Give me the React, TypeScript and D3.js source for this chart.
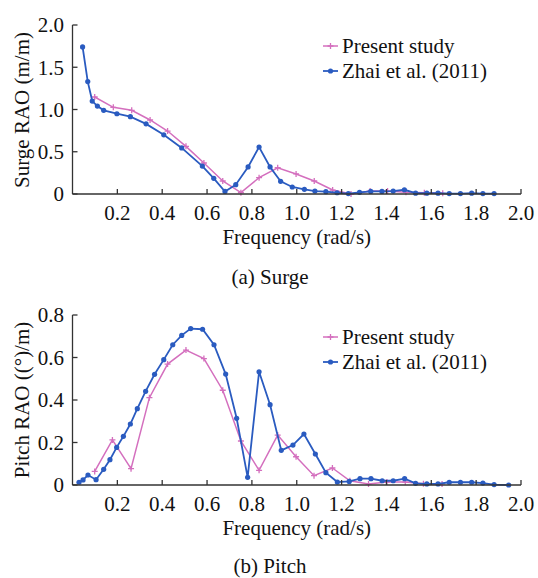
import React from "react";
import * as d3 from "d3";

const surgeZhaiF = [0.045,0.068,0.088,0.111,0.139,0.198,0.258,0.328,0.407,0.487,0.579,0.63,0.68,0.728,0.783,0.832,0.881,0.928,0.98,1.034,1.081,1.13,1.18,1.23,1.28,1.33,1.38,1.43,1.48,1.53,1.58,1.63,1.68,1.73,1.78,1.83,1.88];
const surgeZhaiV = [1.74,1.33,1.10,1.04,0.99,0.95,0.915,0.83,0.70,0.545,0.33,0.185,0.03,0.11,0.32,0.556,0.32,0.15,0.083,0.055,0.035,0.028,0.015,0.005,0.02,0.03,0.03,0.035,0.05,0.01,0.01,0.01,0.005,0.005,0.01,0.005,0.005];
const surgePresentF = [0.099,0.182,0.264,0.346,0.424,0.506,0.586,0.67,0.751,0.832,0.915,0.997,1.078,1.16,1.242,1.327,1.405,1.487,1.569,1.651];
const surgePresentV = [1.148,1.026,0.99,0.876,0.745,0.564,0.367,0.154,0.016,0.193,0.311,0.237,0.154,0.047,0.0,0.035,0.035,0.02,0.016,0.008];

const pitchZhaiF = [0.029,0.047,0.069,0.105,0.139,0.167,0.197,0.227,0.258,0.289,0.326,0.366,0.407,0.447,0.487,0.527,0.58,0.631,0.683,0.732,0.781,0.832,0.881,0.931,0.983,1.032,1.083,1.13,1.181,1.234,1.282,1.331,1.381,1.43,1.481,1.53,1.58,1.63,1.68,1.73,1.78,1.83,1.88,1.945];
const pitchZhaiV = [0.013,0.024,0.047,0.025,0.074,0.119,0.177,0.229,0.287,0.359,0.441,0.521,0.59,0.66,0.704,0.736,0.733,0.66,0.522,0.314,0.036,0.533,0.378,0.163,0.188,0.24,0.146,0.058,0.014,0.017,0.03,0.03,0.02,0.02,0.03,0.008,0.005,0.005,0.013,0.013,0.013,0.009,0.002,0.0];
const pitchPresentF = [0.099,0.178,0.261,0.343,0.424,0.506,0.586,0.67,0.751,0.832,0.915,0.997,1.077,1.159,1.237,1.32,1.402,1.484,1.565,1.648];
const pitchPresentV = [0.064,0.212,0.077,0.411,0.569,0.635,0.595,0.446,0.207,0.069,0.235,0.133,0.044,0.08,0.02,0.005,0.014,0.014,0.006,0.005];

const xTicks = [0.2,0.4,0.6,0.8,1.0,1.2,1.4,1.6,1.8,2.0];
const surgeYTicks = [0,0.5,1.0,1.5,2.0];
const pitchYTicks = [0,0.2,0.4,0.6,0.8];
const seriesNames = ["Present study", "Zhai et al. (2011)"];

const PINK = "#d46fbe";
const BLUE = "#2a5bc0";
const AXIS = "#333";
const TXT = "#111";
const FONT = "Liberation Serif, Times New Roman, DejaVu Serif, serif";

type PanelProps = {
  top: number; bottom: number; yMax: number; yTicks: number[];
  zF: number[]; zV: number[]; pF: number[]; pV: number[];
  yLabel: string; caption: string; legendY: number; yLabelCenter: number; captionY: number;
};

function Panel(p: PanelProps) {
  const x = d3.scaleLinear().domain([0, 2]).range([72.5, 521]);
  const y = d3.scaleLinear().domain([0, p.yMax]).range([p.bottom, p.top]);
  const line = d3.line<[number, number]>().x(d => x(d[0])).y(d => y(d[1]));
  const zPts: [number, number][] = p.zF.map((f, i) => [f, p.zV[i]]);
  const pPts: [number, number][] = p.pF.map((f, i) => [f, p.pV[i]]);
  const fmt = (v: number) => (v === 0 ? "0" : d3.format(".1f")(v));
  const plus = (cx: number, cy: number, k: string) => (
    <path key={k} d={`M${cx - 3},${cy}H${cx + 3}M${cx},${cy - 3}V${cy + 3}`} stroke={PINK} strokeWidth={1.3} />
  );
  const ts = { fontFamily: FONT, fontSize: 21 };
  return (
    <g fill={TXT}>
      <path d={line(pPts) || ""} fill="none" stroke={PINK} strokeWidth={1.5} />
      {pPts.map((d, i) => plus(x(d[0]), y(d[1]), "p" + i))}
      <path d={line(zPts) || ""} fill="none" stroke={BLUE} strokeWidth={1.8} />
      {zPts.map((d, i) => <circle key={"z" + i} cx={x(d[0])} cy={y(d[1])} r={2.6} fill={BLUE} />)}
      <line x1={72.5} x2={72.5} y1={p.top} y2={p.bottom} stroke={AXIS} strokeWidth={1.3} />
      <line x1={72.5} x2={521} y1={p.bottom} y2={p.bottom} stroke={AXIS} strokeWidth={1.3} />
      {p.yTicks.map(t => (
        <g key={"yt" + t}>
          <line x1={72.5} x2={77.5} y1={y(t)} y2={y(t)} stroke={AXIS} strokeWidth={1.3} />
          <text x={64} y={y(t)} dy="0.35em" textAnchor="end" style={ts}>{fmt(t)}</text>
        </g>
      ))}
      {xTicks.map(t => (
        <g key={"xt" + t}>
          <line x1={x(t)} x2={x(t)} y1={p.bottom} y2={p.bottom - 5} stroke={AXIS} strokeWidth={1.3} />
          <text x={x(t)} y={p.bottom + 19} dy="0.35em" textAnchor="middle" style={ts}>{fmt(t)}</text>
        </g>
      ))}
      <text x={296.75} y={p.bottom + 43} dy="0.35em" textAnchor="middle" style={ts}>Frequency (rad/s)</text>
      <text x={270} y={p.captionY} dy="0.35em" textAnchor="middle" style={ts}>{p.caption}</text>
      <text transform={`translate(22,${p.yLabelCenter}) rotate(-90)`} dy="0.35em" textAnchor="middle" style={ts}>{p.yLabel}</text>
      <g>
        <line x1={323} x2={338} y1={p.legendY} y2={p.legendY} stroke={PINK} strokeWidth={1.5} />
        {plus(330.5, p.legendY, "lp")}
        <text x={342} y={p.legendY} dy="0.35em" style={ts}>{seriesNames[0]}</text>
        <line x1={323} x2={338} y1={p.legendY + 25} y2={p.legendY + 25} stroke={BLUE} strokeWidth={1.8} />
        <circle cx={330.5} cy={p.legendY + 25} r={2.6} fill={BLUE} />
        <text x={342} y={p.legendY + 25} dy="0.35em" style={ts}>{seriesNames[1]}</text>
      </g>
    </g>
  );
}

export default function App() {
  return (
    <svg width={538} height={578} style={{ position: "absolute", left: 0, top: 0, background: "#fff" }}>
      <rect width={538} height={578} fill="#fff" />
      <Panel top={25} bottom={194} yMax={2} yTicks={surgeYTicks} zF={surgeZhaiF} zV={surgeZhaiV}
        pF={surgePresentF} pV={surgePresentV} yLabel="Surge RAO (m/m)" caption="(a) Surge" legendY={46} yLabelCenter={110} captionY={277} />
      <Panel top={315} bottom={485} yMax={0.8} yTicks={pitchYTicks} zF={pitchZhaiF} zV={pitchZhaiV}
        pF={pitchPresentF} pV={pitchPresentV} yLabel="Pitch RAO ((°)/m)" caption="(b) Pitch" legendY={337} yLabelCenter={400} captionY={566} />
    </svg>
  );
}
